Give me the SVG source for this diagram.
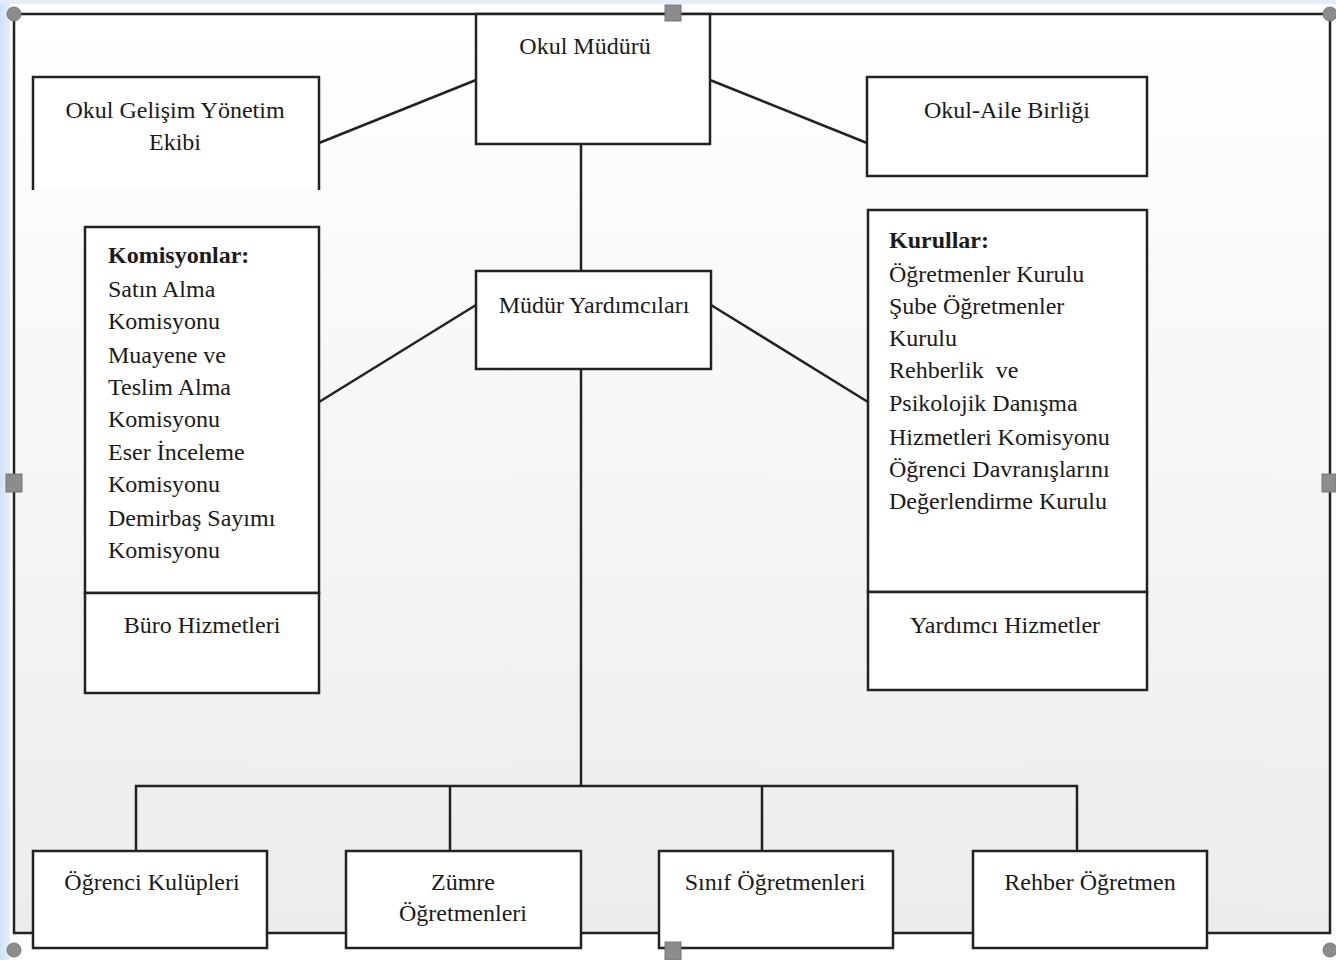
<svg xmlns="http://www.w3.org/2000/svg" width="1336" height="960" viewBox="0 0 1336 960">
<defs>
<linearGradient id="bg" x1="0" y1="0" x2="0" y2="1">
<stop offset="0" stop-color="#ffffff"/>
<stop offset="1" stop-color="#ececec"/>
</linearGradient>
<linearGradient id="side" x1="0" y1="0" x2="1" y2="0">
<stop offset="0" stop-color="#cfe0f5"/>
<stop offset="1" stop-color="#e6effa"/>
</linearGradient>
<style>
.box{fill:#ffffff;stroke:#222;stroke-width:2.5}
.ln{fill:none;stroke:#222;stroke-width:2.5}
.t{font-family:"Liberation Serif","DejaVu Serif",serif;font-size:24px;fill:#1a1a1a}
.c{text-anchor:middle}
.b{font-weight:bold}
.h{fill:#8c8c8c;stroke:#777;stroke-width:1}
</style>
</defs>
<rect width="1336" height="960" fill="#ffffff"/>
<rect x="0" y="0" width="10" height="960" fill="url(#side)"/>
<rect x="0" y="0" width="1336" height="4" fill="#e3eefa"/>
<g id="frame">
<rect x="14" y="14" width="1316" height="919" fill="url(#bg)" stroke="#222" stroke-width="2.5"/>
</g>
<g id="connectors">
<line class="ln" x1="476" y1="80" x2="319" y2="143"/>
<line class="ln" x1="710" y1="80" x2="867" y2="143"/>
<line class="ln" x1="581" y1="144" x2="581" y2="271"/>
<line class="ln" x1="581" y1="369" x2="581" y2="786"/>
<line class="ln" x1="476" y1="305" x2="319" y2="402"/>
<line class="ln" x1="711" y1="305" x2="868" y2="402"/>
<polyline class="ln" points="136,851 136,786 1077,786 1077,851"/>
<line class="ln" x1="450" y1="786" x2="450" y2="851"/>
<line class="ln" x1="762" y1="786" x2="762" y2="851"/>
</g>
<g id="okul-muduru">
<rect class="box" x="476" y="14" width="234" height="130"/>
<text class="t c" x="585" y="54">Okul Müdürü</text>
</g>
<g id="ogye">
<rect x="33" y="77" width="286" height="113" fill="#ffffff"/>
<polyline class="ln" points="33,190 33,77 319,77 319,190"/>
<text class="t c" x="175" y="118">Okul Gelişim Yönetim</text>
<text class="t c" x="175" y="150">Ekibi</text>
</g>
<g id="okul-aile">
<rect class="box" x="867" y="77" width="280" height="99"/>
<text class="t c" x="1007" y="118">Okul-Aile Birliği</text>
</g>
<g id="mudur-yardimcilari">
<rect class="box" x="476" y="271" width="235" height="98"/>
<text class="t c" x="594" y="313">Müdür Yardımcıları</text>
</g>
<g id="komisyonlar">
<rect class="box" x="85" y="227" width="234" height="366"/>
<text class="t b" x="108" y="263">Komisyonlar:</text>
<text class="t" x="108" y="297">Satın Alma</text>
<text class="t" x="108" y="329">Komisyonu</text>
<text class="t" x="108" y="363">Muayene ve</text>
<text class="t" x="108" y="395">Teslim Alma</text>
<text class="t" x="108" y="427">Komisyonu</text>
<text class="t" x="108" y="460">Eser İnceleme</text>
<text class="t" x="108" y="492">Komisyonu</text>
<text class="t" x="108" y="526">Demirbaş Sayımı</text>
<text class="t" x="108" y="558">Komisyonu</text>
</g>
<g id="buro-hizmetleri">
<rect class="box" x="85" y="593" width="234" height="100"/>
<text class="t c" x="202" y="633">Büro Hizmetleri</text>
</g>
<g id="kurullar">
<rect class="box" x="868" y="210" width="279" height="382"/>
<text class="t b" x="889" y="248">Kurullar:</text>
<text class="t" x="889" y="282">Öğretmenler Kurulu</text>
<text class="t" x="889" y="314">Şube Öğretmenler</text>
<text class="t" x="889" y="346">Kurulu</text>
<text class="t" x="889" y="378" xml:space="preserve">Rehberlik  ve</text>
<text class="t" x="889" y="411">Psikolojik Danışma</text>
<text class="t" x="889" y="445">Hizmetleri Komisyonu</text>
<text class="t" x="889" y="477">Öğrenci Davranışlarını</text>
<text class="t" x="889" y="509">Değerlendirme Kurulu</text>
</g>
<g id="yardimci-hizmetler">
<rect class="box" x="868" y="592" width="279" height="98"/>
<text class="t c" x="1005" y="633">Yardımcı Hizmetler</text>
</g>
<g id="ogrenci-kulupleri">
<rect class="box" x="33" y="851" width="234" height="97"/>
<text class="t c" x="152" y="890">Öğrenci Kulüpleri</text>
</g>
<g id="zumre">
<rect class="box" x="346" y="851" width="235" height="97"/>
<text class="t c" x="463" y="890">Zümre</text>
<text class="t c" x="463" y="921">Öğretmenleri</text>
</g>
<g id="sinif">
<rect class="box" x="659" y="851" width="234" height="97"/>
<text class="t c" x="775" y="890">Sınıf Öğretmenleri</text>
</g>
<g id="rehber">
<rect class="box" x="973" y="851" width="234" height="97"/>
<text class="t c" x="1090" y="890">Rehber Öğretmen</text>
</g>
<g id="handles">
<circle class="h" cx="14" cy="14" r="7"/>
<rect class="h" x="665" y="5" width="16" height="16"/>
<circle class="h" cx="1330" cy="14" r="7"/>
<rect class="h" x="6" y="474" width="16" height="18"/>
<rect class="h" x="1322" y="474" width="14" height="18"/>
<circle class="h" cx="14" cy="950" r="7"/>
<rect class="h" x="665" y="942" width="16" height="18"/>
<circle class="h" cx="1330" cy="950" r="7"/>
</g>
</svg>
